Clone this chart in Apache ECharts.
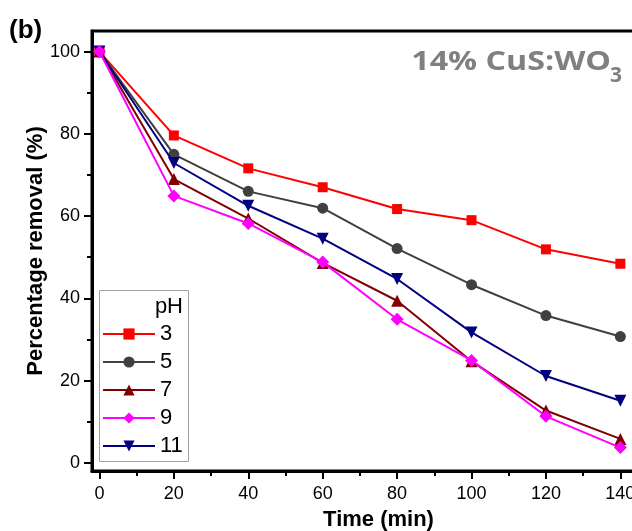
<!DOCTYPE html>
<html>
<head>
<meta charset="utf-8">
<script src="https://cdn.jsdelivr.net/npm/echarts@6/dist/echarts.min.js"></script>
<style>
  html, body { margin: 0; padding: 0; background: #fff; }
  #chart { width: 632px; height: 531px; }
</style>
</head>
<body>
<div id="chart"></div>
<script>
// Sampling times (min)
const times = [0, 20, 40, 60, 80, 100, 120, 140];

// Percentage removal at each pH
const pH3  = [100, 79.6, 71.6, 67.0, 61.7, 59.0, 51.9, 48.4];
const pH5  = [100, 75.0, 66.0, 61.9, 52.1, 43.3, 35.8, 30.7];
const pH7  = [100, 69.0, 59.4, 48.6, 39.4, 24.7, 12.7, 5.8];
const pH9  = [100, 64.9, 58.2, 48.8, 34.9, 24.9, 11.3, 3.7];
const pH11 = [100, 72.9, 62.5, 54.5, 44.7, 31.7, 21.1, 15.1];

const seriesNames = ['3', '5', '7', '9', '11'];

// Tick positions
const xMajorTicks = [0, 20, 40, 60, 80, 100, 120, 140];
const xMinorTicks = [10, 30, 50, 70, 90, 110, 130, 150];
const yMajorTicks = [0, 20, 40, 60, 80, 100];
const yMinorTicks = [10, 30, 50, 70, 90];

const FONT = 'Liberation Sans, Arial, sans-serif';

function pairs(values) {
  return times.map((t, i) => [t, values[i]]);
}

const styles = [
  { data: pH3,  color: '#ff0000', symbol: 'rect',     size: 10, z: 2 },
  { data: pH5,  color: '#404040', symbol: 'circle',   size: 11, z: 2 },
  { data: pH7,  color: '#800000', symbol: 'triangle', size: 12, z: 2 },
  { data: pH9,  color: '#ff00ff', symbol: 'diamond',  size: 13, z: 4 },
  { data: pH11, color: '#000080', symbol: 'path://M0,0L10,0L5,9Z', size: 12, z: 3 }
];

const series = styles.map((s, i) => ({
  name: seriesNames[i],
  type: 'line',
  xAxisIndex: 0,
  yAxisIndex: 0,
  data: pairs(s.data),
  symbol: s.symbol,
  symbolSize: s.size,
  z: s.z,
  lineStyle: { color: s.color, width: 2 },
  itemStyle: { color: s.color, borderWidth: 0 },
  emphasis: { disabled: true }
}));

const axisLineStyle = { color: '#000', width: 3 };

const chart = echarts.init(document.getElementById('chart'), null, { renderer: 'canvas' });
chart.setOption({
  animation: false,
  backgroundColor: '#fff',
  grid: {
    left: 92, top: 31, width: 573, height: 440,
    outerBoundsMode: 'none', containLabel: false,
    show: true, borderColor: '#000', borderWidth: 3, backgroundColor: 'transparent'
  },
  xAxis: [
    {
      type: 'value', min: -2, max: 152, position: 'bottom',
      axisLine: { show: true, onZero: false, lineStyle: axisLineStyle },
      axisTick: { show: true, customValues: xMajorTicks, length: 8, lineStyle: { color: '#000', width: 2 } },
      axisLabel: { show: true, customValues: xMajorTicks, fontSize: 18, color: '#000', fontFamily: FONT, margin: 14 },
      splitLine: { show: false },
      name: 'Time (min)', nameLocation: 'middle', nameGap: 38, nameMoveOverlap: false,
      nameTextStyle: { fontSize: 22, fontWeight: 'bold', color: '#000', fontFamily: FONT }
    },
    {
      type: 'value', min: -2, max: 152, position: 'bottom',
      axisLine: { show: false, onZero: false },
      axisTick: { show: true, customValues: xMinorTicks, length: 5, lineStyle: { color: '#000', width: 2 } },
      axisLabel: { show: false },
      splitLine: { show: false }
    }
  ],
  yAxis: [
    {
      type: 'value', min: -2, max: 105, position: 'left',
      axisLine: { show: true, onZero: false, lineStyle: axisLineStyle },
      axisTick: { show: true, customValues: yMajorTicks, length: 8, lineStyle: { color: '#000', width: 2 } },
      axisLabel: { show: true, customValues: yMajorTicks, fontSize: 18, color: '#000', fontFamily: FONT, margin: 12 },
      splitLine: { show: false },
      name: 'Percentage removal (%)', nameLocation: 'middle', nameGap: 45, nameMoveOverlap: false,
      nameTextStyle: { fontSize: 22, fontWeight: 'bold', color: '#000', fontFamily: FONT }
    },
    {
      type: 'value', min: -2, max: 105, position: 'left',
      axisLine: { show: false, onZero: false },
      axisTick: { show: true, customValues: yMinorTicks, length: 5, lineStyle: { color: '#000', width: 2 } },
      axisLabel: { show: false },
      splitLine: { show: false }
    }
  ],
  legend: {
    data: seriesNames,
    orient: 'vertical',
    left: 102, top: 323, padding: 0,
    itemWidth: 52, itemHeight: 14, itemGap: 6,
    textStyle: { fontSize: 22, lineHeight: 22, color: '#000', fontFamily: FONT },
    selectedMode: false
  },
  graphic: [
    {
      type: 'rect', silent: true, z: 10,
      shape: { x: 99.5, y: 290.5, width: 89, height: 171 },
      style: { fill: 'transparent', stroke: '#a0a0a0', lineWidth: 1 }
    },
    {
      type: 'text', silent: true, z: 10, x: 183, y: 307,
      style: { text: 'pH', fontSize: 22, fontFamily: FONT, fill: '#000', textAlign: 'right', textVerticalAlign: 'middle' }
    },
    {
      type: 'text', silent: true, z: 10, x: 9, y: 31,
      style: { text: '(b)', fontSize: 26, fontWeight: 'bold', fontFamily: FONT, fill: '#000', textAlign: 'left', textVerticalAlign: 'middle' }
    },
    {
      type: 'text', silent: true, z: 10, x: 611, y: 63, scaleX: 1.24, originX: 0, originY: 0,
      style: { text: '14% CuS:WO', fontSize: 26, fontWeight: 'bold', fontFamily: 'Open Sans, sans-serif', fill: '#808080', textAlign: 'right', textVerticalAlign: 'middle' }
    },
    {
      type: 'text', silent: true, z: 10, x: 610, y: 76,
      style: { text: '3', fontSize: 21, fontWeight: 'bold', fontFamily: 'Open Sans, sans-serif', fill: '#808080', textAlign: 'left', textVerticalAlign: 'middle' }
    }
  ],
  series: series
});
</script>
</body>
</html>
